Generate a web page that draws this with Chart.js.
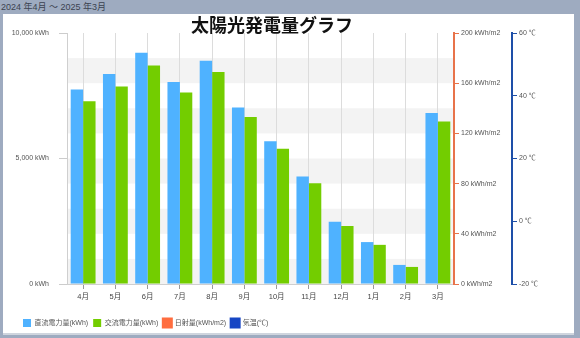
<!DOCTYPE html>
<html>
<head>
<meta charset="utf-8">
<script src="https://cdn.jsdelivr.net/npm/chart.js@4"></script>
<style>
  html, body { margin: 0; padding: 0; }
  body { width: 580px; height: 338px; background: #9eabc0; position: relative; overflow: hidden;
         font-family: "Liberation Sans", "Noto Sans CJK JP", sans-serif; }
  #period { position: absolute; left: 1px; top: 1px; font-size: 9px; color: #3c4350; line-height: 12px; }
  #panel { position: absolute; left: 3px; top: 14px; width: 571px; height: 319px; background: #fff;
           border-bottom: 2px solid #cfd5de; }
  #panel canvas { display: block; }
</style>
</head>
<body>
<div id="period">2024 年4月 ～ 2025 年3月</div>
<div id="panel"><canvas id="c" width="571" height="319"></canvas></div>
<script>
// Monthly generation for the fiscal year (April through March)
const months = ['4月', '5月', '6月', '7月', '8月', '9月', '10月', '11月', '12月', '1月', '2月', '3月'];
const dcPower = [7750, 8370, 9210, 8050, 8890, 7030, 5690, 4280, 2480, 1670, 760, 6810];   // kWh
const acPower = [7280, 7870, 8710, 7630, 8450, 6650, 5390, 4010, 2310, 1560, 680, 6470];   // kWh
const irradiation = [];   // kWh/m2
const temperature = [];   // ℃

const chartTitle = '太陽光発電量グラフ';
const bandStep = 1000;

const FONT = '"Liberation Sans", "Noto Sans CJK JP", sans-serif';

// Alternating light bands behind the bars
const bandPlugin = {
  id: 'bands',
  beforeDraw(chart) {
    const { ctx, chartArea } = chart;
    const y = chart.scales.y;
    ctx.save();
    ctx.fillStyle = '#f3f3f3';
    for (let v = y.min; v < y.max; v += bandStep * 2) {
      const top = y.getPixelForValue(Math.min(v + bandStep, y.max));
      const bottom = y.getPixelForValue(v);
      ctx.fillRect(chartArea.left, top, chartArea.right - chartArea.left, bottom - top);
    }
    ctx.restore();
  }
};

// Heading above the plot
const headingPlugin = {
  id: 'heading',
  afterDraw(chart) {
    const { ctx } = chart;
    ctx.save();
    ctx.font = 'bold 18px "Noto Sans CJK JP", sans-serif';
    ctx.fillStyle = '#111';
    ctx.textAlign = 'center';
    ctx.textBaseline = 'middle';
    ctx.fillText(chartTitle, 269, 11);
    ctx.restore();
  }
};

// Indent the legend row and nudge it down a little
const legendShift = {
  id: 'legendShift',
  afterLayout(chart) {
    const lg = chart.legend;
    if (!lg) return;
    lg.left += 15;
    lg.top += 4;
    lg.bottom += 4;
  }
};

const tickFont = { family: FONT, size: 7 };

new Chart(document.getElementById('c'), {
  type: 'bar',
  data: {
    labels: months,
    datasets: [
      { label: '直流電力量(kWh)', data: dcPower, backgroundColor: '#4fb2ff', yAxisID: 'y',
        categoryPercentage: 0.77, barPercentage: 1.0 },
      { label: '交流電力量(kWh)', data: acPower, backgroundColor: '#73cd00', yAxisID: 'y',
        categoryPercentage: 0.77, barPercentage: 1.0 },
      { type: 'line', label: '日射量(kWh/m2)', data: irradiation, backgroundColor: '#ff6d3f',
        borderColor: '#ff6d3f', yAxisID: 'y1' },
      { type: 'line', label: '気温(℃)', data: temperature, backgroundColor: '#1746c4',
        borderColor: '#1746c4', yAxisID: 'y2' }
    ]
  },
  options: {
    responsive: false,
    animation: false,
    devicePixelRatio: 1,
    layout: { padding: { top: 19, left: 0, right: 0, bottom: 0 } },
    plugins: {
      title: { display: false },
      tooltip: { enabled: false },
      legend: {
        position: 'bottom',
        align: 'start',
        labels: {
          boxWidth: 8, boxHeight: 8, padding: 5,
          color: '#555',
          font: { family: FONT, size: 7 }
        }
      }
    },
    scales: {
      x: {
        offset: true,
        grid: { offset: false, color: '#dcdcdc', tickLength: 5, tickColor: '#999' },
        border: { color: '#cfcfcf' },
        ticks: { color: '#444', font: { family: FONT, size: 7.5 }, padding: 3 },
        afterFit(s) { s.height = 26; }
      },
      y: {
        position: 'left',
        min: 0, max: 10000,
        ticks: { stepSize: 5000, color: '#555', font: tickFont, padding: 10,
                 callback: v => v.toLocaleString('en-US') + ' kWh' },
        grid: { drawOnChartArea: false, tickLength: 8, tickColor: '#ccc' },
        border: { color: '#cfcfcf', width: 1 },
        afterFit(s) { s.width = 64; }
      },
      y1: {
        position: 'right',
        min: 0, max: 200,
        ticks: { stepSize: 40, color: '#555', font: tickFont, padding: 2,
                 callback: v => v + ' kWh/m2' },
        grid: { drawOnChartArea: false, tickLength: 5, tickColor: '#e8734a' },
        border: { color: '#e8734a', width: 2 },
        afterFit(s) { s.width = 58; }
      },
      y2: {
        position: 'right',
        min: -20, max: 60,
        ticks: { stepSize: 20, color: '#555', font: tickFont, padding: 2,
                 callback: v => v + ' ℃' },
        grid: { drawOnChartArea: false, tickLength: 5, tickColor: '#1e4fa8' },
        border: { color: '#1e4fa8', width: 2 },
        afterFit(s) { s.width = 62; }
      }
    }
  },
  plugins: [bandPlugin, headingPlugin, legendShift]
});
</script>
</body>
</html>
